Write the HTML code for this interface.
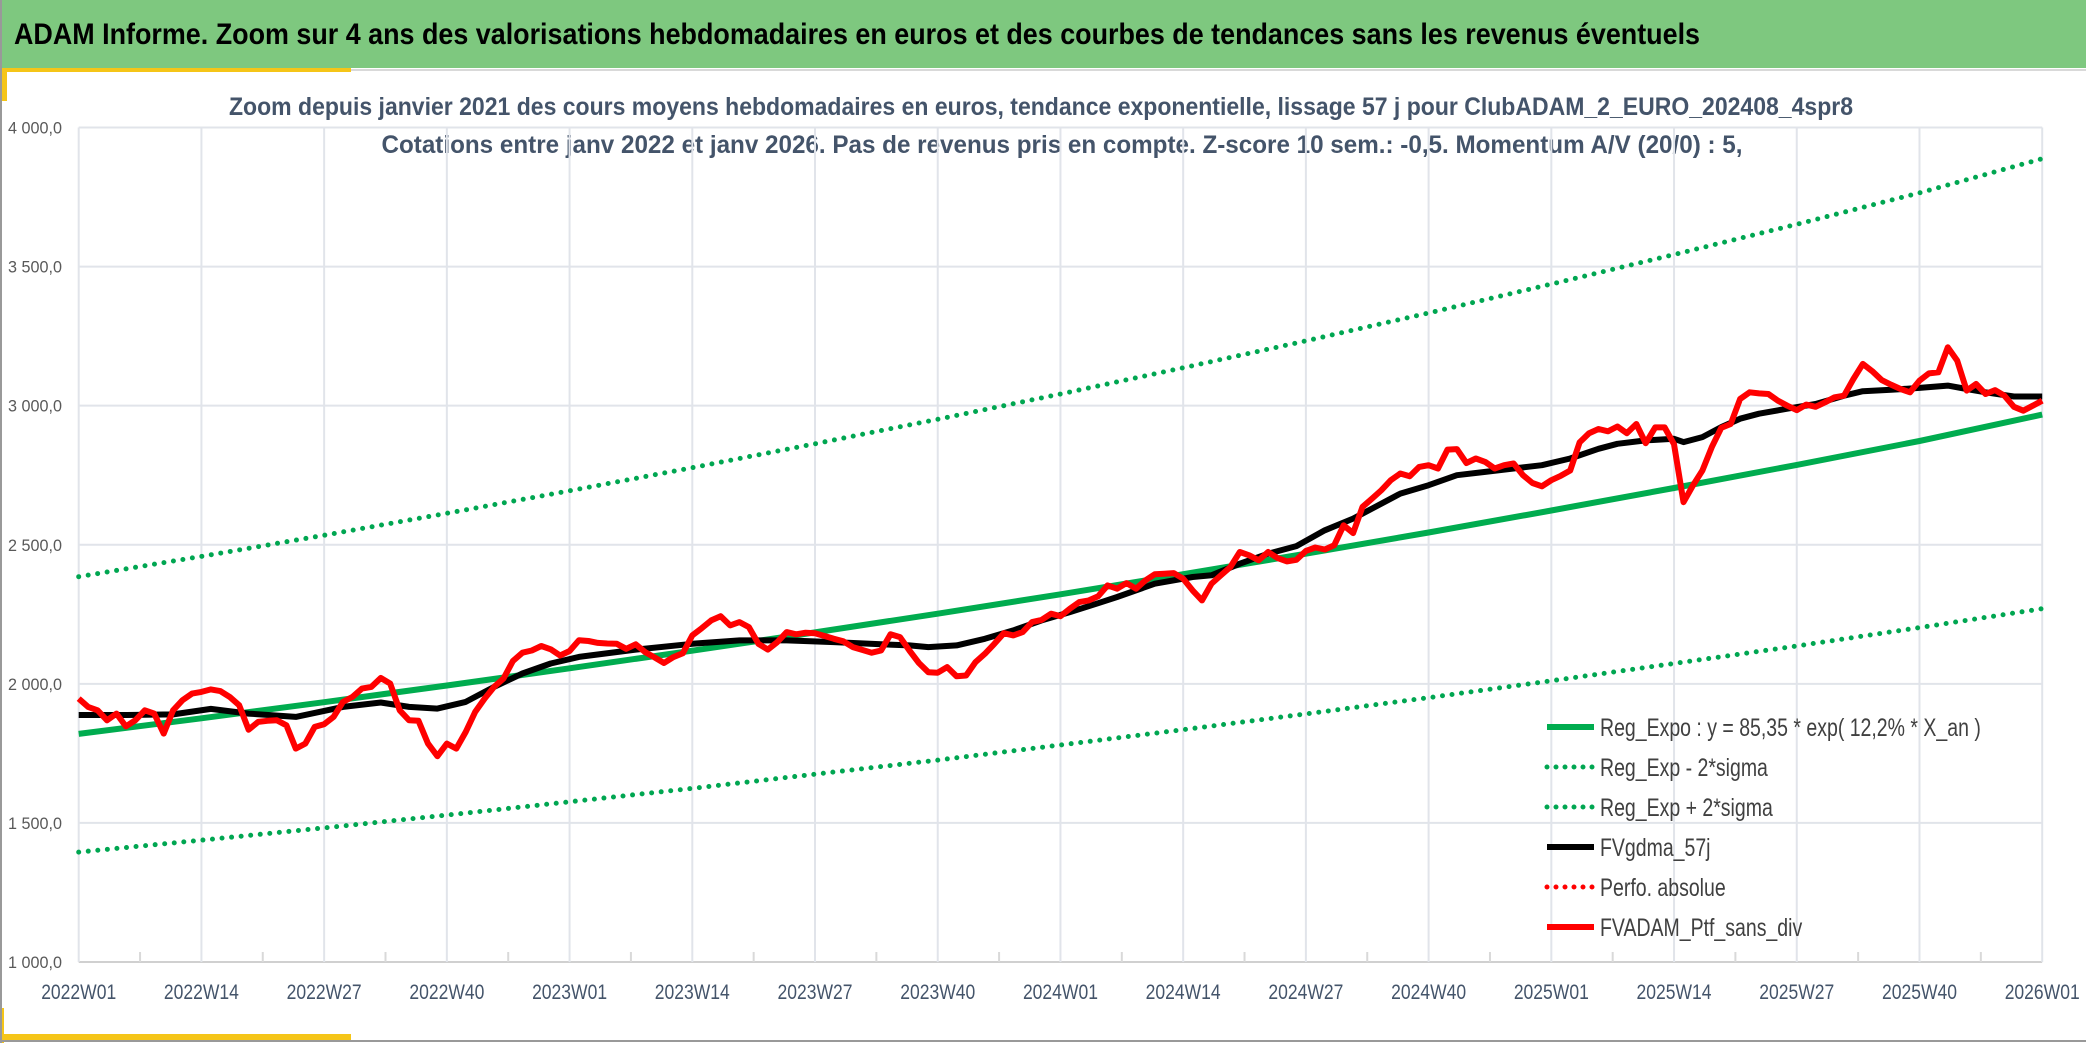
<!DOCTYPE html>
<html><head><meta charset="utf-8"><style>
html,body{margin:0;padding:0;background:#fff;}
svg{display:block;}
</style></head><body>
<svg id="chart" width="2086" height="1043" viewBox="0 0 2086 1043" xmlns="http://www.w3.org/2000/svg" font-family="'Liberation Sans', sans-serif">
<rect x="0" y="0" width="2086" height="1043" fill="#fff"/>
<rect x="0" y="0" width="2086" height="68" fill="#7ec87f"/>
<text x="14" y="44" font-size="30" font-weight="bold" fill="#000" textLength="1686" lengthAdjust="spacingAndGlyphs">ADAM Informe. Zoom sur 4 ans des valorisations hebdomadaires en euros et des courbes de tendances sans les revenus éventuels</text>
<line x1="0" y1="70" x2="2086" y2="70" stroke="#d9d9d9" stroke-width="2"/>
<rect x="0" y="68" width="351" height="4" fill="#f5c518"/>
<rect x="0" y="68" width="7" height="33" fill="#f5c518"/>
<rect x="0" y="1034" width="351" height="7" fill="#f5c518"/>
<rect x="0" y="1008" width="4" height="35" fill="#f5c518"/>
<line x1="0" y1="1041" x2="2086" y2="1041" stroke="#999" stroke-width="2"/>
<line x1="1" y1="0" x2="1" y2="1043" stroke="#999" stroke-width="2"/>
<text x="1041" y="115" font-size="25" font-weight="bold" fill="#44546a" text-anchor="middle" textLength="1624" lengthAdjust="spacingAndGlyphs">Zoom depuis janvier 2021 des cours moyens hebdomadaires en euros, tendance exponentielle, lissage 57 j pour ClubADAM_2_EURO_202408_4spr8</text>
<text x="1062" y="153" font-size="25" font-weight="bold" fill="#44546a" text-anchor="middle" textLength="1361" lengthAdjust="spacingAndGlyphs">Cotations entre janv 2022 et janv 2026. Pas de revenus pris en compte. Z-score 10 sem.: -0,5. Momentum A/V (20/0) : 5,</text>
<g id="grid"></g>
<g id="axes"></g>
<g id="series"></g>
<g id="legend"></g>
</svg>
<script>
// ---- data ----
const xTickLabels = ["2022W01","2022W14","2022W27","2022W40","2023W01","2023W14","2023W27","2023W40","2024W01","2024W14","2024W27","2024W40","2025W01","2025W14","2025W27","2025W40","2026W01"];
const xTickWeeks = [0,13,26,39,52,65,78,91,104,117,130,143,156,169,182,195,208];
const yTicks = [1000,1500,2000,2500,3000,3500,4000];
const yTickLabels = ["1 000,0","1 500,0","2 000,0","2 500,0","3 000,0","3 500,0","4 000,0"];
const trendWeeks = [0,13,26,39,52,65,78,91,104,117,130,143,156,169,182,195,208];
const regExpo = [1820,1876,1934,1994,2056,2119,2185,2252,2322,2394,2468,2544,2623,2704,2787,2873,2968];
const regUpper = [2385,2458,2534,2613,2694,2777,2863,2951,3042,3136,3233,3333,3437,3543,3652,3765,3888];
const regLower = [1395,1438,1482,1528,1576,1624,1675,1726,1780,1835,1892,1950,2011,2073,2136,2202,2270];
const ptfValues = [1947,1917,1905,1869,1893,1847,1869,1905,1893,1821,
1905,1941,1965,1971,1980,1974,1953,1923,1835,1863,
1867,1869,1851,1767,1785,1845,1855,1881,1935,1953,
1983,1989,2021,2001,1905,1869,1867,1785,1740,1785,
1767,1827,1899,1947,1989,2019,2082,2112,2120,2136,
2124,2102,2118,2157,2154,2147,2145,2144,2126,2142,
2114,2095,2075,2096,2110,2174,2200,2228,2243,2210,
2222,2204,2144,2123,2150,2186,2178,2184,2182,2172,
2162,2153,2132,2122,2112,2120,2178,2168,2120,2075,
2042,2040,2060,2027,2030,2078,2108,2144,2182,2174,
2186,2222,2230,2252,2243,2270,2294,2300,2315,2354,
2342,2362,2342,2372,2394,2396,2398,2378,2336,2300,
2360,2390,2420,2474,2462,2444,2474,2452,2440,2446,
2478,2490,2483,2498,2570,2542,2636,2666,2696,2732,
2756,2746,2780,2786,2774,2842,2844,2794,2810,2798,
2774,2786,2792,2750,2722,2710,2732,2748,2767,2868,
2901,2916,2908,2925,2901,2934,2865,2922,2922,2862,
2653,2713,2767,2851,2920,2934,3024,3048,3044,3042,
3018,3000,2984,3004,2996,3012,3030,3036,3096,3150,
3124,3092,3075,3060,3048,3090,3116,3120,3210,3162,
3054,3078,3042,3056,3036,2996,2982,3000,3018];
const gdmaWeeks = [0,5,10,14,18,23,28,32,35,38,41,44,47,50,53,59,65,70,75,80,85,88,90,93,96,99,102,105,108,110,114,118,120,123,126,129,132,135,137,140,143,146,149,152,155,158,161,163,166,169,170,172,174,176,178,181,184,187,189,192,195,198,200,202,205,208];
const gdmaValues = [1888,1888,1890,1910,1893,1881,1917,1933,1917,1911,1935,1989,2037,2073,2097,2123,2144,2156,2156,2150,2142,2138,2132,2138,2162,2192,2228,2258,2290,2312,2360,2384,2390,2432,2468,2495,2552,2594,2630,2684,2714,2750,2762,2774,2786,2810,2845,2863,2875,2881,2869,2887,2923,2953,2971,2989,3006,3036,3052,3057,3064,3072,3060,3048,3033,3033];
const legendLabels = ["Reg_Expo : y = 85,35 * exp( 12,2% *  X_an )","Reg_Exp - 2*sigma","Reg_Exp + 2*sigma","FVgdma_57j","Perfo. absolue","FVADAM_Ptf_sans_div"];

// ---- scales ----
const NS="http://www.w3.org/2000/svg";
const X0=78.7, X1=2042.2, W_MAX=208;
const Y0=962, Y1=127.5, V0=1000, V1=4000;
const xS = w => X0 + (w/W_MAX)*(X1-X0);
const yS = v => Y0 - (v-V0)/(V1-V0)*(Y0-Y1);
function mk(tag, attrs, parent){const e=document.createElementNS(NS,tag);for(const k in attrs)e.setAttribute(k,attrs[k]);parent.appendChild(e);return e;}
const grid=document.getElementById('grid'), axes=document.getElementById('axes'), ser=document.getElementById('series'), leg=document.getElementById('legend');

yTicks.forEach((v,i)=>{
  const l=mk('line',{x1:X0,x2:X1,y1:yS(v),y2:yS(v),stroke:i===0?'#d0d0d0':'#e1e4ea','stroke-width':2},grid);
  
  
  const t=mk('text',{x:8,y:yS(v)+6,'font-size':17,fill:'#595959',textLength:54,lengthAdjust:'spacingAndGlyphs'},axes);
  t.textContent=yTickLabels[i];
  
  
});
xTickWeeks.forEach((w,i)=>{
  const l=mk('line',{x1:xS(w),x2:xS(w),y1:Y1,y2:Y0,stroke:'#e1e4ea','stroke-width':2},grid);
  
  
  if(i<xTickWeeks.length-1){
    const m=mk('line',{x1:xS(w+6.5),x2:xS(w+6.5),y1:Y0-10,y2:Y0,stroke:'#d9d9d9','stroke-width':2},grid);
    
    
  }
  const t=mk('text',{x:xS(w),y:999,'font-size':21,fill:'#44546a','text-anchor':'middle',textLength:75,lengthAdjust:'spacingAndGlyphs'},axes);
  t.textContent=xTickLabels[i];
  
  
});

function pathFrom(ws, vs){return ws.map((w,i)=>(i?'L':'M')+xS(w).toFixed(1)+','+yS(vs[i]).toFixed(1)).join(' ');}
const dotted={'stroke-dasharray':'0 9.6','stroke-linecap':'round','stroke-width':5,fill:'none'};
let p;
p=mk('path',Object.assign({d:pathFrom(trendWeeks,regLower),stroke:'#00a651'},dotted),ser);


p=mk('path',Object.assign({d:pathFrom(trendWeeks,regUpper),stroke:'#00a651'},dotted),ser);


p=mk('path',{d:pathFrom(trendWeeks,regExpo),stroke:'#00ac4f','stroke-width':6,fill:'none'},ser);


p=mk('path',{d:pathFrom(gdmaWeeks,gdmaValues),stroke:'#000','stroke-width':6,fill:'none','stroke-linejoin':'round'},ser);


p=mk('path',{d:pathFrom(ptfValues.map((v,i)=>i),ptfValues),stroke:'#ff0000','stroke-width':6,fill:'none','stroke-linejoin':'round'},ser);



const legStyles=[
 {stroke:'#00ac4f',dash:null},{stroke:'#00a651',dash:'0 9'},{stroke:'#00a651',dash:'0 9'},
 {stroke:'#000',dash:null},{stroke:'#ff0000',dash:'0 9'},{stroke:'#ff0000',dash:null}];
legendLabels.forEach((lab,i)=>{
  const y=727+i*40;
  const a={x1:1547,x2:1594,y1:y,y2:y,stroke:legStyles[i].stroke,'stroke-width':6};
  if(legStyles[i].dash){a['stroke-dasharray']=legStyles[i].dash;a['stroke-linecap']='round';a['stroke-width']=5;}
  const l=mk('line',a,leg);
  
  
  const t=mk('text',{x:0,y:0,'font-size':25,fill:'#404040',transform:'translate(1600,'+(y+9)+') scale(0.78,1)'},leg);
  t.textContent=lab;
  
  
});
</script>
</body></html>
